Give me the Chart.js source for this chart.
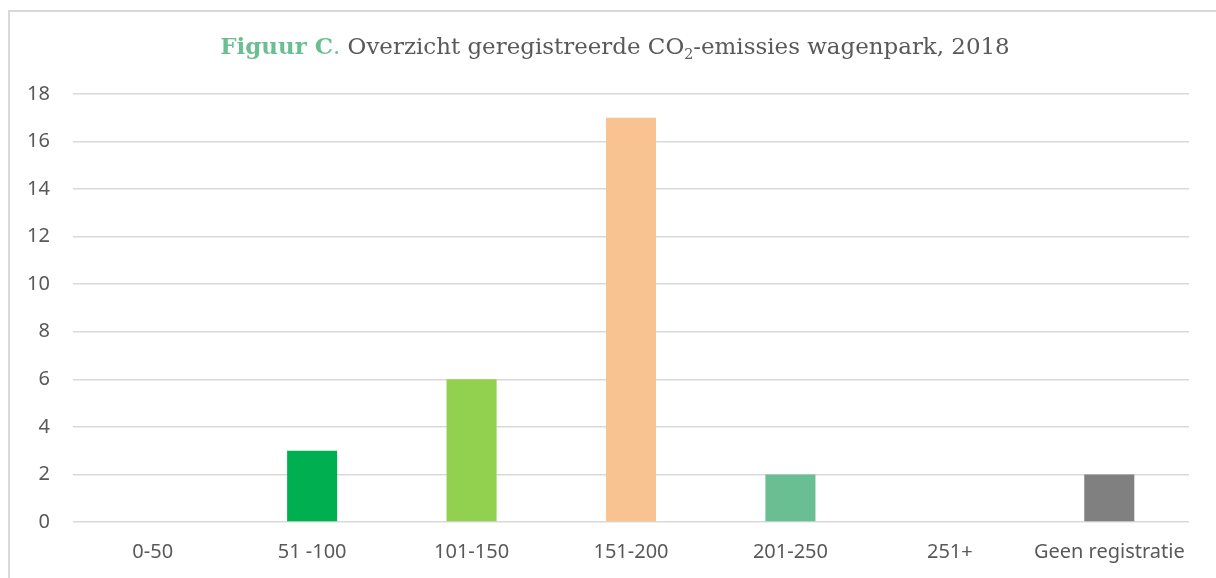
<!DOCTYPE html>
<html>
<head>
<meta charset="utf-8">
<script src="https://cdn.jsdelivr.net/npm/chart.js@4/dist/chart.umd.min.js"></script>
<style>
  html, body { margin: 0; padding: 0; background: #fff; }
  #wrap { width: 1216px; height: 578px; }
</style>
</head>
<body>
<div id="wrap"><canvas id="co2Chart"></canvas></div>
<script>
// Data
const categories = ['0-50', '51 -100', '101-150', '151-200', '201-250', '251+', 'Geen registratie'];
const counts = [0, 3, 6, 17, 2, 0, 2];
const barColors = ['#00B050', '#00B050', '#92D050', '#F9C291', '#6ABF92', '#6ABF92', '#808080'];

const TEXT = '#595959';
const GRID = '#d9d9d9';
const SERIF = '"DejaVu Serif", serif';

// Frame + title drawn by hand (mixed styles, subscript)
const framePlugin = {
    id: 'frame',
    beforeDraw(chart) {
        const ctx = chart.ctx;
        ctx.save();
        ctx.fillStyle = '#fff';
        ctx.fillRect(0, 0, chart.width, chart.height);
        ctx.fillStyle = GRID;
        ctx.fillRect(8, 10, 2, chart.height - 10);
        ctx.fillRect(8, 10, chart.width - 8, 2);
        ctx.restore();
    },
    afterDraw(chart) {
        const ctx = chart.ctx;
        const build = size => [
            { t: 'Figuur C', f: 'bold ' + size + 'px ' + SERIF, c: '#6ABF92', dy: 0 },
            { t: '.', f: size + 'px ' + SERIF, c: '#6ABF92', dy: 0 },
            { t: ' Overzicht geregistreerde CO', f: size + 'px ' + SERIF, c: TEXT, dy: 0 },
            { t: '2', f: (size * 0.62) + 'px ' + SERIF, c: TEXT, dy: 5 },
            { t: '-emissies wagenpark, 2018', f: size + 'px ' + SERIF, c: TEXT, dy: 0 }
        ];
        const measure = parts => {
            let total = 0;
            parts.forEach(p => { ctx.font = p.f; p.w = ctx.measureText(p.t).width; total += p.w; });
            return total;
        };
        ctx.save();
        // fit the title to the span it takes in the original (x 220..1010)
        const base = 20;
        const size = base * 790 / measure(build(base));
        const parts = build(size);
        const total = measure(parts);
        let x = 615 - total / 2;
        const y = 54;
        ctx.textBaseline = 'alphabetic';
        parts.forEach(p => {
            ctx.font = p.f;
            ctx.fillStyle = p.c;
            ctx.fillText(p.t, x, y + p.dy);
            x += p.w;
        });
        ctx.restore();
    }
};

const ctx = document.getElementById('co2Chart').getContext('2d');
new Chart(ctx, {
    type: 'bar',
    data: {
        labels: categories,
        datasets: [{
            data: counts,
            backgroundColor: barColors,
            borderWidth: 0,
            barPercentage: 0.314,
            categoryPercentage: 1
        }]
    },
    options: {
        responsive: true,
        maintainAspectRatio: false,
        animation: false,
        layout: { padding: { top: 94, right: 27, left: 0, bottom: 0 } },
        plugins: {
            legend: { display: false },
            title: { display: false },
            tooltip: { enabled: false }
        },
        scales: {
            x: {
                grid: { display: false, drawTicks: false },
                border: { display: false },
                ticks: {
                    color: TEXT,
                    font: { family: '"Noto Sans", sans-serif', size: 20 },
                    padding: 18,
                    maxRotation: 0,
                    autoSkip: false
                },
                afterFit(scale) { scale.height = 56; }
            },
            y: {
                min: 0,
                max: 18,
                ticks: {
                    stepSize: 2,
                    color: TEXT,
                    font: { family: '"Noto Sans", sans-serif', size: 20 },
                    padding: 23
                },
                grid: { color: GRID, lineWidth: 1.5, drawTicks: false },
                border: { display: false },
                afterFit(scale) { scale.width = 73; }
            }
        }
    },
    plugins: [framePlugin]
});
</script>
</body>
</html>
